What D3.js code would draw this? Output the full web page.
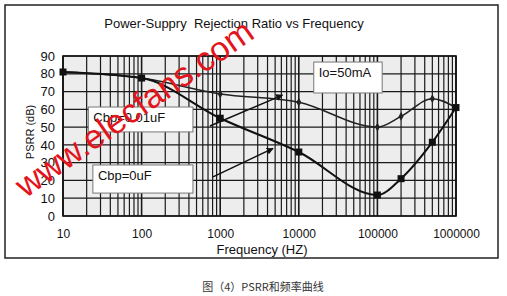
<!DOCTYPE html>
<html>
<head>
<meta charset="utf-8">
<script src="https://cdn.jsdelivr.net/npm/d3@7"></script>
<style>
  html, body { margin: 0; padding: 0; background: #fff; }
  svg { display: block; font-family: "Liberation Sans", Arial, sans-serif; }
</style>
</head>
<body>
<div id="chart"></div>
<script>
// data
const freqs = [10, 100, 1000, 10000, 100000, 200000, 500000, 1000000];
const psrrCbp001 = [81, 77.6, 68.6, 64, 50, 56, 66, 61];
const psrrCbp0 = [81, 77.6, 55, 36, 11.8, 21, 41.5, 61];
const yTicks = [0, 10, 20, 30, 40, 50, 60, 70, 80, 90];
const xTicks = [10, 100, 1000, 10000, 100000, 1000000];
const xTickLabels = ["10", "100", "1000", "10000", "100000", "1000000"];

const width = 507, height = 296;
const plot = { left: 63, right: 456, top: 56, bottom: 216 };

const svg = d3.select("#chart").append("svg")
    .attr("width", width)
    .attr("height", height);

const x = d3.scaleLog().domain([10, 1e6]).range([plot.left, plot.right]);
const y = d3.scaleLinear().domain([0, 90]).range([plot.bottom, plot.top]);

// outer frame
svg.append("rect")
    .attr("x", 5).attr("y", 5)
    .attr("width", 493).attr("height", 253)
    .attr("fill", "#fff")
    .attr("stroke", "#222")
    .attr("stroke-width", 1.5);

svg.append("text")
    .attr("x", 234).attr("y", 28)
    .attr("text-anchor", "middle")
    .attr("font-size", 13)
    .attr("fill", "#111")
    .attr("xml:space", "preserve")
    .text("Power-Suppry  Rejection Ratio vs Frequency");

// plot background
svg.append("rect")
    .attr("x", plot.left).attr("y", plot.top)
    .attr("width", plot.right - plot.left)
    .attr("height", plot.bottom - plot.top)
    .attr("fill", "#ededed");

// log grid: 1..9 per decade
const minor = [];
for (let e = 1; e < 6; e++) {
    for (let m = 1; m < 10; m++) minor.push(m * Math.pow(10, e));
}
minor.push(1e6);

const grid = svg.append("g");
grid.selectAll("line.v")
    .data(minor)
    .enter().append("line")
    .attr("class", "v")
    .attr("x1", d => x(d)).attr("x2", d => x(d))
    .attr("y1", plot.top).attr("y2", plot.bottom)
    .attr("stroke", "#1a1a1a")
    .attr("stroke-width", d => xTicks.includes(d) ? 1.6 : 1.2);

grid.selectAll("line.h")
    .data(yTicks)
    .enter().append("line")
    .attr("class", "h")
    .attr("x1", plot.left).attr("x2", plot.right)
    .attr("y1", d => y(d)).attr("y2", d => y(d))
    .attr("stroke", "#1a1a1a")
    .attr("stroke-width", 1.2);

svg.append("rect")
    .attr("x", plot.left).attr("y", plot.top)
    .attr("width", plot.right - plot.left)
    .attr("height", plot.bottom - plot.top)
    .attr("fill", "none")
    .attr("stroke", "#111")
    .attr("stroke-width", 1.6);

// axes labels
const yAxis = d3.axisLeft(y).tickValues(yTicks).tickSize(0).tickPadding(8);
svg.append("g")
    .attr("transform", `translate(${plot.left},0)`)
    .call(yAxis)
    .call(g => g.select(".domain").remove())
    .selectAll("text")
    .attr("font-size", 13)
    .attr("font-family", "Liberation Sans, Arial, sans-serif")
    .attr("fill", "#111");

const xAxis = d3.axisBottom(x).tickValues(xTicks)
    .tickFormat((d, i) => xTickLabels[i]).tickSize(0).tickPadding(13);
svg.append("g")
    .attr("transform", `translate(0,${plot.bottom})`)
    .call(xAxis)
    .call(g => g.select(".domain").remove())
    .selectAll("text")
    .attr("font-size", 12)
    .attr("font-family", "Liberation Sans, Arial, sans-serif")
    .attr("fill", "#111");

svg.append("text")
    .attr("x", 262).attr("y", 254)
    .attr("text-anchor", "middle")
    .attr("font-size", 13)
    .attr("fill", "#111")
    .text("Frequency (HZ)");

svg.append("text")
    .attr("transform", "translate(34,132) rotate(-90)")
    .attr("text-anchor", "middle")
    .attr("font-size", 11)
    .attr("fill", "#111")
    .text("PSRR (dB)");

// annotation boxes
const boxes = [
    { text: "Cbp=0.01uF", f0: 21, f1: 450, db0: 61.3, db1: 47.3 },
    { text: "Cbp=0uF", f0: 24, f1: 450, db0: 28.7, db1: 12.9 },
    { text: "Io=50mA", f0: 15500, f1: 115000, db0: 86.6, db1: 69.2 }
];
const box = svg.append("g").selectAll("g")
    .data(boxes)
    .enter().append("g");
box.append("rect")
    .attr("x", d => x(d.f0)).attr("y", d => y(d.db0))
    .attr("width", d => x(d.f1) - x(d.f0))
    .attr("height", d => y(d.db1) - y(d.db0))
    .attr("fill", "#fff")
    .attr("stroke", "#777")
    .attr("stroke-width", 1);
box.append("text")
    .attr("x", d => x(d.f0) + 5)
    .attr("y", d => y(d.db0) + 15)
    .attr("font-size", 13)
    .attr("fill", "#111")
    .text(d => d.text);

// curves
const line = d3.line()
    .x((d, i) => x(freqs[i]))
    .y(d => y(d))
    .curve(d3.curveMonotoneX);

svg.append("path")
    .datum(psrrCbp001)
    .attr("d", line)
    .attr("fill", "none")
    .attr("stroke", "#222")
    .attr("stroke-width", 1.5);

svg.append("path")
    .datum(psrrCbp0)
    .attr("d", line)
    .attr("fill", "none")
    .attr("stroke", "#111")
    .attr("stroke-width", 2);

svg.append("g").selectAll("path")
    .data(psrrCbp001)
    .enter().append("path")
    .attr("d", d3.symbol(d3.symbolDiamond, 22))
    .attr("transform", (d, i) => `translate(${x(freqs[i])},${y(d)})`)
    .attr("fill", "#222");

svg.append("g").selectAll("rect")
    .data(psrrCbp0)
    .enter().append("rect")
    .attr("x", (d, i) => x(freqs[i]) - 3.5)
    .attr("y", d => y(d) - 3.5)
    .attr("width", 7).attr("height", 7)
    .attr("fill", "#111");

// arrows
svg.append("defs").append("marker")
    .attr("id", "arrow")
    .attr("viewBox", "0 0 10 10")
    .attr("refX", 9).attr("refY", 5)
    .attr("markerWidth", 7).attr("markerHeight", 7)
    .attr("markerUnits", "userSpaceOnUse")
    .attr("orient", "auto")
    .append("path")
    .attr("d", "M0,0 L10,5 L0,10 Z")
    .attr("fill", "#111");

const arrows = [
    { f0: 740, db0: 50.6, f1: 6200, db1: 68 },
    { f0: 810, db0: 22, f1: 4700, db1: 38 }
];
svg.append("g").selectAll("line")
    .data(arrows)
    .enter().append("line")
    .attr("x1", d => x(d.f0)).attr("y1", d => y(d.db0))
    .attr("x2", d => x(d.f1)).attr("y2", d => y(d.db1))
    .attr("stroke", "#111")
    .attr("stroke-width", 1.5)
    .attr("marker-end", "url(#arrow)");

// watermark
svg.append("text")
    .attr("transform", "translate(134,108) rotate(-35)")
    .attr("text-anchor", "middle")
    .attr("dominant-baseline", "central")
    .attr("font-size", 34)
    .attr("fill", "#e3141b")
    .text("www.elecfans.com");

// caption
svg.append("text")
    .attr("x", 263).attr("y", 291)
    .attr("text-anchor", "middle")
    .attr("font-size", 11)
    .attr("font-family", "Noto Sans CJK SC, sans-serif")
    .attr("fill", "#333")
    .text("图（4）PSRR和频率曲线");
</script>
</body>
</html>
